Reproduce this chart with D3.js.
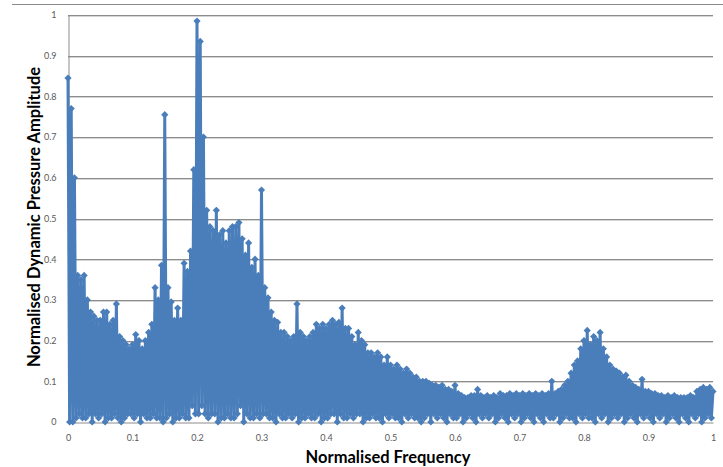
<!DOCTYPE html>
<html>
<head>
<meta charset="utf-8">
<script src="https://cdn.jsdelivr.net/npm/d3@7"></script>
<style>
  body { margin: 0; background: #ffffff; }
  svg { display: block; }
</style>
</head>
<body>
<svg id="chart"></svg>
<script>
// DATA
// amplitude, one value every FREQ_STEP of normalised frequency
const FREQ_STEP = 0.0025;
const amplitude = [
  0.845, 0.00, 0.77, 0.00, 0.60, 0.01, 0.36, 0.02, 0.35, 0.01, 0.36, 0.01, 0.30, 0.02, 0.27, 0.00, 0.26, 0.02, 0.25, 0.01,
  0.25, 0.02, 0.27, 0.00, 0.27, 0.01, 0.24, 0.01, 0.25, 0.02, 0.29, 0.01, 0.21, 0.00, 0.20, 0.01, 0.19, 0.02, 0.18, 0.02,
  0.19, 0.01, 0.215, 0.02, 0.20, 0.00, 0.18, 0.02, 0.20, 0.01, 0.22, 0.01, 0.24, 0.02, 0.33, 0.01, 0.30, 0.01, 0.385, 0.00,
  0.755, 0.01, 0.33, 0.02, 0.295, 0.00, 0.25, 0.01, 0.28, 0.01, 0.25, 0.02, 0.39, 0.01, 0.37, 0.01, 0.42, 0.04, 0.62, 0.02,
  0.985, 0.02, 0.935, 0.04, 0.70, 0.02, 0.52, 0.01, 0.48, 0.02, 0.47, 0.02, 0.52, 0.00, 0.46, 0.01, 0.47, 0.01, 0.44, 0.02,
  0.47, 0.01, 0.48, 0.01, 0.48, 0.02, 0.49, 0.04, 0.45, 0.00, 0.41, 0.02, 0.44, 0.01, 0.38, 0.01, 0.40, 0.02, 0.36, 0.01,
  0.57, 0.02, 0.33, 0.02, 0.305, 0.01, 0.27, 0.01, 0.25, 0.00, 0.245, 0.02, 0.22, 0.01, 0.22, 0.01, 0.21, 0.02, 0.20, 0.01,
  0.21, 0.02, 0.29, 0.00, 0.22, 0.01, 0.21, 0.01, 0.20, 0.02, 0.21, 0.01, 0.22, 0.01, 0.24, 0.02, 0.23, 0.00, 0.24, 0.01,
  0.23, 0.01, 0.24, 0.02, 0.25, 0.02, 0.24, 0.00, 0.245, 0.02, 0.28, 0.01, 0.23, 0.01, 0.23, 0.02, 0.21, 0.01, 0.19, 0.02,
  0.22, 0.02, 0.20, 0.00, 0.19, 0.01, 0.17, 0.01, 0.17, 0.02, 0.16, 0.01, 0.17, 0.01, 0.16, 0.00, 0.14, 0.02, 0.16, 0.01,
  0.14, 0.02, 0.13, 0.01, 0.14, 0.01, 0.13, 0.00, 0.12, 0.02, 0.13, 0.01, 0.12, 0.02, 0.11, 0.01, 0.11, 0.01, 0.10, 0.00,
  0.10, 0.01, 0.10, 0.02, 0.095, 0.00, 0.09, 0.02, 0.09, 0.01, 0.085, 0.02, 0.09, 0.01, 0.08, 0.00, 0.08, 0.02, 0.075, 0.01,
  0.09, 0.01, 0.07, 0.02, 0.065, 0.00, 0.06, 0.01, 0.06, 0.02, 0.065, 0.01, 0.065, 0.00, 0.08, 0.02, 0.065, 0.01, 0.06, 0.02,
  0.065, 0.01, 0.06, 0.02, 0.065, 0.00, 0.06, 0.01, 0.07, 0.02, 0.065, 0.01, 0.065, 0.00, 0.07, 0.02, 0.065, 0.01, 0.07, 0.02,
  0.065, 0.00, 0.07, 0.01, 0.065, 0.02, 0.07, 0.01, 0.065, 0.00, 0.07, 0.02, 0.065, 0.01, 0.07, 0.00, 0.065, 0.02, 0.07, 0.01,
  0.10, 0.01, 0.07, 0.02, 0.075, 0.00, 0.08, 0.01, 0.09, 0.02, 0.10, 0.01, 0.12, 0.01, 0.14, 0.00, 0.15, 0.02, 0.18, 0.01,
  0.20, 0.02, 0.225, 0.01, 0.19, 0.01, 0.21, 0.00, 0.20, 0.02, 0.22, 0.01, 0.18, 0.02, 0.16, 0.00, 0.14, 0.01, 0.13, 0.02,
  0.125, 0.01, 0.12, 0.02, 0.11, 0.00, 0.115, 0.01, 0.10, 0.02, 0.09, 0.01, 0.085, 0.00, 0.08, 0.02, 0.105, 0.01, 0.075, 0.02,
  0.075, 0.01, 0.07, 0.00, 0.07, 0.02, 0.065, 0.01, 0.065, 0.02, 0.06, 0.00, 0.065, 0.01, 0.06, 0.02, 0.065, 0.01, 0.06, 0.00,
  0.06, 0.02, 0.06, 0.01, 0.06, 0.00, 0.065, 0.02, 0.06, 0.01, 0.075, 0.02, 0.08, 0.00, 0.085, 0.01, 0.08, 0.02, 0.085, 0.01,
  0.075
];
const xTicks = [0, 0.1, 0.2, 0.3, 0.4, 0.5, 0.6, 0.7, 0.8, 0.9, 1];
const yTicks = [0, 0.1, 0.2, 0.3, 0.4, 0.5, 0.6, 0.7, 0.8, 0.9, 1];
const xTitle = "Normalised Frequency";
const yTitle = "Normalised Dynamic Pressure Amplitude";

// frequency bins are evenly spaced
const points = amplitude.map((a, i) => ({f: i * FREQ_STEP, a: a}));

// LAYOUT
const width = 723, height = 467;
const plot = {left: 68, right: 713, top: 15, bottom: 422};
const blue = "#4a7ebb";
const font = "Lato, 'Liberation Sans', sans-serif";

const svg = d3.select("#chart").attr("width", width).attr("height", height);

const x = d3.scaleLinear().domain([0, 1]).range([plot.left, plot.right]);
const y = d3.scaleLinear().domain([0, 1]).range([plot.bottom, plot.top]);

// chart area top edge
svg.append("line")
  .attr("x1", 12).attr("x2", width)
  .attr("y1", 4.5).attr("y2", 4.5)
  .attr("stroke", "#8a8a8a");

// gridlines (dark line with a light shadow under it)
const grid = svg.append("g");
grid.selectAll("line.shadow")
  .data(yTicks.filter(d => d > 0))
  .join("line")
  .attr("class", "shadow")
  .attr("x1", plot.left).attr("x2", plot.right)
  .attr("y1", d => Math.round(y(d)) + 1.5).attr("y2", d => Math.round(y(d)) + 1.5)
  .attr("stroke", "#d4d4d4");
grid.selectAll("line.major")
  .data(yTicks.filter(d => d > 0))
  .join("line")
  .attr("class", "major")
  .attr("x1", plot.left).attr("x2", plot.right)
  .attr("y1", d => Math.round(y(d)) + 0.5).attr("y2", d => Math.round(y(d)) + 0.5)
  .attr("stroke", "#8c8c8c");

// axes, no tick marks
const xAxis = d3.axisBottom(x).tickValues(xTicks).tickFormat(d3.format("")).tickSize(0).tickPadding(12);
const yAxis = d3.axisLeft(y).tickValues(yTicks).tickFormat(d3.format("")).tickSize(0).tickPadding(12);

const gx = svg.append("g").attr("transform", `translate(0,${plot.bottom + 0.5})`).call(xAxis);
const gy = svg.append("g").attr("transform", `translate(${plot.left + 0.5},0)`).call(yAxis);

[gx, gy].forEach(g => {
  g.select(".domain").attr("stroke", "#8c8c8c");
  g.selectAll(".tick text")
    .attr("fill", "#595959")
    .style("font-family", font)
    .style("font-size", "9px");
});

// series: line then diamond markers on top
svg.append("path")
  .datum(points)
  .attr("fill", "none")
  .attr("stroke", blue)
  .attr("stroke-width", 3)
  .attr("stroke-linejoin", "round")
  .attr("d", d3.line().x(d => x(d.f)).y(d => y(d.a)));

const diamond = d3.symbol().type(d3.symbolSquare).size(26);
svg.append("g")
  .selectAll("path")
  .data(points)
  .join("path")
  .attr("transform", d => `translate(${x(d.f)},${y(d.a)}) rotate(45)`)
  .attr("d", diamond)
  .attr("fill", blue);

// axis titles
svg.append("text")
  .attr("x", 388)
  .attr("y", 463)
  .attr("text-anchor", "middle")
  .style("font-family", font)
  .style("font-weight", "bold")
  .style("font-size", "16.5px")
  .text(xTitle);

svg.append("text")
  .attr("transform", "translate(40,217) rotate(-90)")
  .attr("text-anchor", "middle")
  .style("font-family", font)
  .style("font-weight", "bold")
  .style("font-size", "16.5px")
  .text(yTitle);
</script>
</body>
</html>
